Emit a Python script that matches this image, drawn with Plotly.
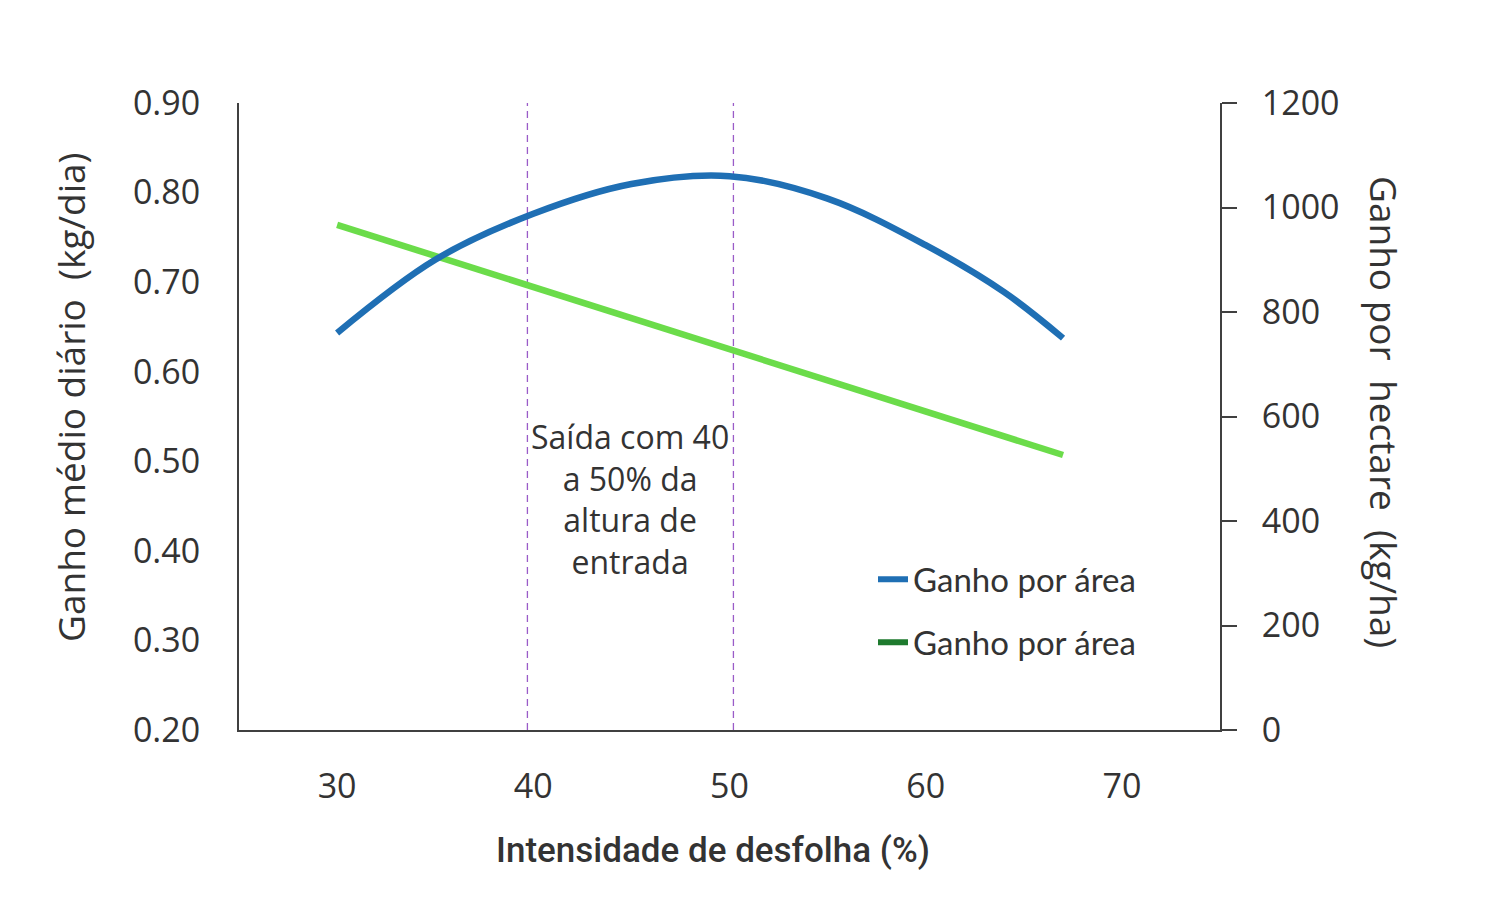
import plotly.graph_objects as go

# Data
x_area = [30, 35, 40, 45, 50, 55, 60, 64, 67]
ganho_area = [760, 900, 988, 1045, 1060, 1017, 928, 838, 750]

x_diario = [30, 40, 50, 60, 67]
ganho_diario = [0.764, 0.695, 0.626, 0.556, 0.507]

faixa_saida = [39.7, 50.2]

x_ticks = [30, 40, 50, 60, 70]
y_left_ticks = [0.2, 0.3, 0.4, 0.5, 0.6, 0.7, 0.8, 0.9]
y_right_ticks = [0, 200, 400, 600, 800, 1000, 1200]

legend_label = "Ganho por área"

BLUE = "#1f6fb4"
GREEN = "#6bdc4a"
DARK_GREEN = "#1e7a2e"
AXIS = "#404040"
TEXT = "#333333"
PURPLE = "#9a5cc8"

L, R, T, B = 239, 280, 103, 170
W, H = 1500, 900
plot_w = W - L - R
plot_h = H - T - B

fig = go.Figure()

fig.add_trace(go.Scatter(
    x=x_area, y=ganho_area, yaxis="y2", mode="lines",
    line=dict(color=BLUE, width=6.5, shape="spline", smoothing=1.0),
    showlegend=False, hoverinfo="skip"))
fig.add_trace(go.Scatter(
    x=x_diario, y=ganho_diario, yaxis="y", mode="lines",
    line=dict(color=GREEN, width=6.5),
    showlegend=False, hoverinfo="skip"))

# Legend entries (the second swatch is darker green in the reference)
fig.add_trace(go.Scatter(
    x=[None], y=[None], mode="lines", name=legend_label,
    line=dict(color=BLUE, width=6), legendgroup="a"))
fig.add_trace(go.Scatter(
    x=[None], y=[None], mode="lines", name=legend_label,
    line=dict(color=DARK_GREEN, width=6), legendgroup="b"))

for xv in faixa_saida:
    fig.add_shape(type="line", xref="x", yref="paper", x0=xv, x1=xv, y0=0, y1=1,
                  line=dict(color=PURPLE, width=1.3, dash="7px,5px"), layer="below")

fig.add_annotation(
    x=44.93, y=0.458, xref="x", yref="y",
    text="Saída com 40<br>a 50% da<br>altura de<br>entrada",
    showarrow=False, align="center",
    font=dict(family="Open Sans", size=32, color=TEXT))

fig.add_annotation(
    xref="paper", yref="paper", x=(70 - L) / plot_w, y=(H - B - 397) / plot_h,
    xanchor="center", yanchor="middle",
    text="Ganho médio diário  (kg/dia)", textangle=-90, showarrow=False,
    font=dict(family="Open Sans", size=37, color=TEXT))
fig.add_annotation(
    xref="paper", yref="paper", x=(1385 - L) / plot_w, y=(H - B - 412) / plot_h,
    xanchor="center", yanchor="middle",
    text="Ganho por  hectare  (kg/ha)", textangle=90, showarrow=False,
    font=dict(family="Open Sans", size=37, color=TEXT))
fig.add_annotation(
    xref="paper", yref="paper", x=(713 - L) / plot_w, y=(H - B - 850) / plot_h,
    xanchor="center", yanchor="middle",
    text="Intensidade de desfolha (%)", showarrow=False,
    font=dict(family="Roboto", size=35, color=TEXT, weight=500))

fig.update_layout(
    width=W, height=H,
    margin=dict(l=L, r=R, t=T, b=B),
    paper_bgcolor="white", plot_bgcolor="white",
    font=dict(family="Open Sans", color=TEXT),
    xaxis=dict(range=[25, 75], tickvals=x_ticks, showgrid=False, zeroline=False,
               showline=True, linecolor=AXIS, linewidth=2, ticks="",
               ticklabelstandoff=25,
               tickfont=dict(family="Open Sans", size=34, color=TEXT)),
    yaxis=dict(range=[0.2, 0.9], tickvals=y_left_ticks, tickformat=".2f",
               showgrid=False, zeroline=False, showline=True, linecolor=AXIS,
               linewidth=2, ticks="", ticklabelstandoff=30,
               tickfont=dict(family="Open Sans", size=34, color=TEXT)),
    yaxis2=dict(range=[0, 1200], tickvals=y_right_ticks, overlaying="y", side="right",
                showgrid=False, zeroline=False, showline=True, linecolor=AXIS,
                linewidth=2, ticks="outside", ticklen=15, tickwidth=2, tickcolor=AXIS,
                ticklabelstandoff=18,
                tickfont=dict(family="Open Sans", size=34, color=TEXT)),
    legend=dict(x=(873 - L) / plot_w, y=0.285, xanchor="left", yanchor="top",
                bgcolor="rgba(0,0,0,0)", traceorder="grouped", tracegroupgap=17,
                font=dict(family="Lato", size=33, color=TEXT)),
)

fig.write_html("out.html")
